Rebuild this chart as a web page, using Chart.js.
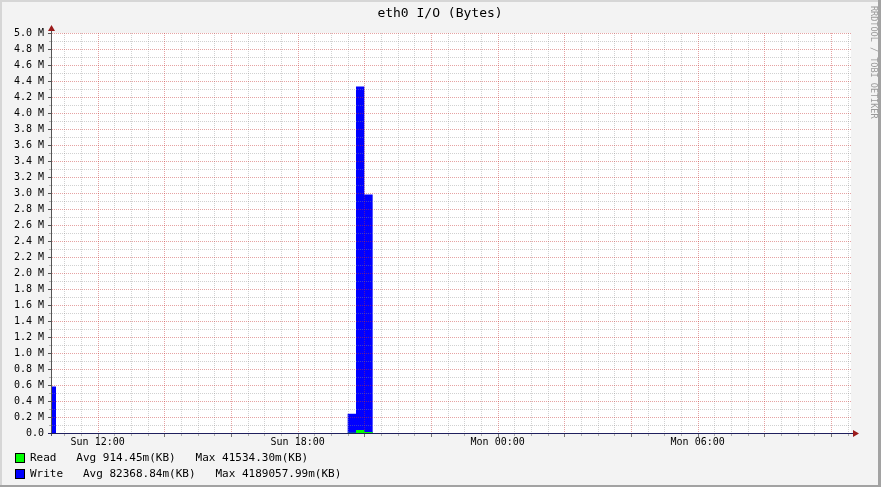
<!DOCTYPE html>
<html>
<head>
<meta charset="utf-8">
<script src="https://cdn.jsdelivr.net/npm/chart.js@4/dist/chart.umd.min.js"></script>
<style>
  html, body { margin: 0; padding: 0; background: #f3f3f3; }
  #wrap { width: 881px; height: 487px; position: relative; }
</style>
</head>
<body>
<div id="wrap"><canvas id="chart"></canvas></div>
<script>
// time axis in hours counted from Sun 00:00, 15 minute consolidation steps
const stepStart = [10.5, 10.75, 19.5, 19.75, 20.0, 20.25, 34.75];
const writeBytes = [580000, 0, 240000, 4330000, 2980000, 0, 0];
const readBytes = [0, 0, 4000, 37500, 13000, 0, 0];

const viewStart = 10.6;
const viewEnd = 34.6;
const yMax = 5000000;

const legendRows = [
  { name: "Read", color: "#00ff00", avg: "914.45m(KB)", max: "41534.30m(KB)" },
  { name: "Write", color: "#0000ff", avg: "82368.84m(KB)", max: "4189057.99m(KB)" }
];
const title = "eth0 I/O (Bytes)";
const watermark = "RRDTOOL / TOBI OETIKER";

const MONO = "'DejaVu Sans Mono', 'Liberation Mono', monospace";
const minorGrid = "rgba(140,140,140,0.4)";
const majorGrid = "rgba(200,50,50,0.45)";

const toPoints = vals => vals.map((v, i) => ({ x: stepStart[i], y: v }));

const isMajorX = v => Math.abs(v % 2) < 1e-6;
const isMajorY = v => Math.round(v / 100000) % 2 === 0;

const rrdDecor = {
  id: "rrdDecor",
  beforeDraw(chart) {
    const ctx = chart.ctx;
    const { left, top, right, bottom } = chart.chartArea;
    ctx.save();
    ctx.fillStyle = "#f3f3f3";
    ctx.fillRect(0, 0, 881, 487);
    ctx.fillStyle = "#d6d6d6";
    ctx.fillRect(0, 0, 881, 2);
    ctx.fillRect(0, 0, 2, 487);
    ctx.fillStyle = "#a2a2a2";
    ctx.fillRect(878, 0, 3, 487);
    ctx.fillRect(0, 485, 881, 2);
    ctx.fillStyle = "#ffffff";
    ctx.fillRect(left, top, right - left, bottom - top);
    ctx.restore();
  },
  afterDatasetsDraw(chart) {
    const ctx = chart.ctx;
    const { left, top, right, bottom } = chart.chartArea;
    const L = Math.round(left), T = Math.round(top), R = Math.round(right), B = Math.round(bottom);
    const xs = chart.scales.x, ys = chart.scales.y;
    ctx.save();
    // dotted grid, drawn over the areas like rrdtool does (minor first, major on top)
    [false, true].forEach(major => {
      xs.ticks.forEach(t => {
        if (isMajorX(t.value) !== major) return;
        const px = Math.round(xs.getPixelForValue(t.value));
        ctx.fillStyle = major ? majorGrid : minorGrid;
        for (let y = T; y < B; y += 2) ctx.fillRect(px, y, 1, 1);
        ctx.fillStyle = major ? "#777777" : "#b0b0b0";
        ctx.fillRect(px, B + 1, 1, major ? 3 : 2);
      });
      ys.ticks.forEach(t => {
        if (isMajorY(t.value) !== major || t.value === 0) return;
        const py = Math.round(ys.getPixelForValue(t.value));
        ctx.fillStyle = major ? majorGrid : minorGrid;
        for (let x = L + 1; x < R; x += 2) ctx.fillRect(x, py, 1, 1);
        ctx.fillStyle = major ? "#555555" : "#b0b0b0";
        ctx.fillRect(L - (major ? 3 : 2), py, major ? 3 : 2, 1);
      });
    });
    // y axis
    ctx.fillStyle = "#555555";
    ctx.fillRect(L, T - 4, 1, B - T + 7);
    // x axis
    ctx.fillStyle = "#20205e";
    ctx.fillRect(L - 3, B, R - L + 6, 1);
    // arrows
    ctx.fillStyle = "#9b1b1b";
    ctx.beginPath();
    ctx.moveTo(L + 0.5, T - 8);
    ctx.lineTo(L - 3, T - 2);
    ctx.lineTo(L + 4, T - 2);
    ctx.closePath();
    ctx.fill();
    ctx.beginPath();
    ctx.moveTo(R + 8, B + 0.5);
    ctx.lineTo(R + 2, B - 3);
    ctx.lineTo(R + 2, B + 4);
    ctx.closePath();
    ctx.fill();
    ctx.restore();
  },
  afterDraw(chart) {
    const ctx = chart.ctx;
    ctx.save();
    // title
    ctx.fillStyle = "#000000";
    ctx.font = "13px " + MONO;
    ctx.textAlign = "center";
    ctx.textBaseline = "middle";
    ctx.fillText(title, 440, 14);
    // legend
    ctx.font = "11px " + MONO;
    ctx.textAlign = "left";
    legendRows.forEach((row, i) => {
      const y = 453 + i * 16;
      ctx.fillStyle = row.color;
      ctx.fillRect(15, y, 10, 10);
      ctx.strokeStyle = "#000000";
      ctx.lineWidth = 1;
      ctx.strokeRect(15.5, y + 0.5, 9, 9);
      ctx.fillStyle = "#000000";
      ctx.fillText(row.name + "   Avg " + row.avg + "   Max " + row.max, 30, y + 5.5);
    });
    // watermark
    ctx.translate(873, 6);
    ctx.rotate(Math.PI / 2);
    ctx.fillStyle = "#9a9a9a";
    ctx.font = "8.5px " + MONO;
    ctx.textBaseline = "middle";
    ctx.fillText(watermark, 0, 0);
    ctx.restore();
  }
};

new Chart(document.getElementById("chart"), {
  type: "line",
  data: {
    datasets: [
      { label: "Read", data: toPoints(readBytes), backgroundColor: "#00ff00", borderColor: "rgba(0,0,0,0)", borderWidth: 0, fill: "origin", stepped: true, pointRadius: 0 },
      { label: "Write", data: toPoints(writeBytes), backgroundColor: "#0000ff", borderColor: "rgba(0,0,0,0)", borderWidth: 0, fill: "origin", stepped: true, pointRadius: 0 }
    ]
  },
  options: {
    responsive: true,
    maintainAspectRatio: false,
    animation: false,
    events: [],
    layout: { padding: { left: 0, right: 30, top: 33, bottom: 0 } },
    plugins: { legend: { display: false }, tooltip: { enabled: false } },
    scales: {
      x: {
        type: "linear",
        min: viewStart,
        max: viewEnd,
        afterFit: s => { s.height = 54; },
        afterBuildTicks: s => {
          const ticks = [];
          for (let h = Math.ceil(viewStart * 2) / 2; h <= viewEnd; h += 0.5) ticks.push({ value: h });
          s.ticks = ticks;
        },
        border: { display: false },
        grid: { display: false, drawTicks: false },
        ticks: {
          autoSkip: false,
          maxRotation: 0,
          padding: 3,
          color: "#000000",
          font: { family: MONO, size: 10 },
          callback: v => {
            if (Math.abs(v % 6) > 1e-6) return "";
            const day = v < 24 ? "Sun" : "Mon";
            const h = String(Math.round(v) % 24).padStart(2, "0");
            return day + " " + h + ":00";
          }
        }
      },
      y: {
        type: "linear",
        min: 0,
        max: yMax,
        afterFit: s => { s.width = 51; },
        border: { display: false },
        grid: { display: false, drawTicks: false },
        ticks: {
          stepSize: 100000,
          autoSkip: false,
          padding: 7,
          color: "#000000",
          font: { family: MONO, size: 10 },
          callback: v => {
            const k = Math.round(v / 100000);
            if (k % 2 !== 0) return "";
            if (k === 0) return "0.0";
            return (v / 1000000).toFixed(1) + " M";
          }
        }
      }
    }
  },
  plugins: [rrdDecor]
});
</script>
</body>
</html>
